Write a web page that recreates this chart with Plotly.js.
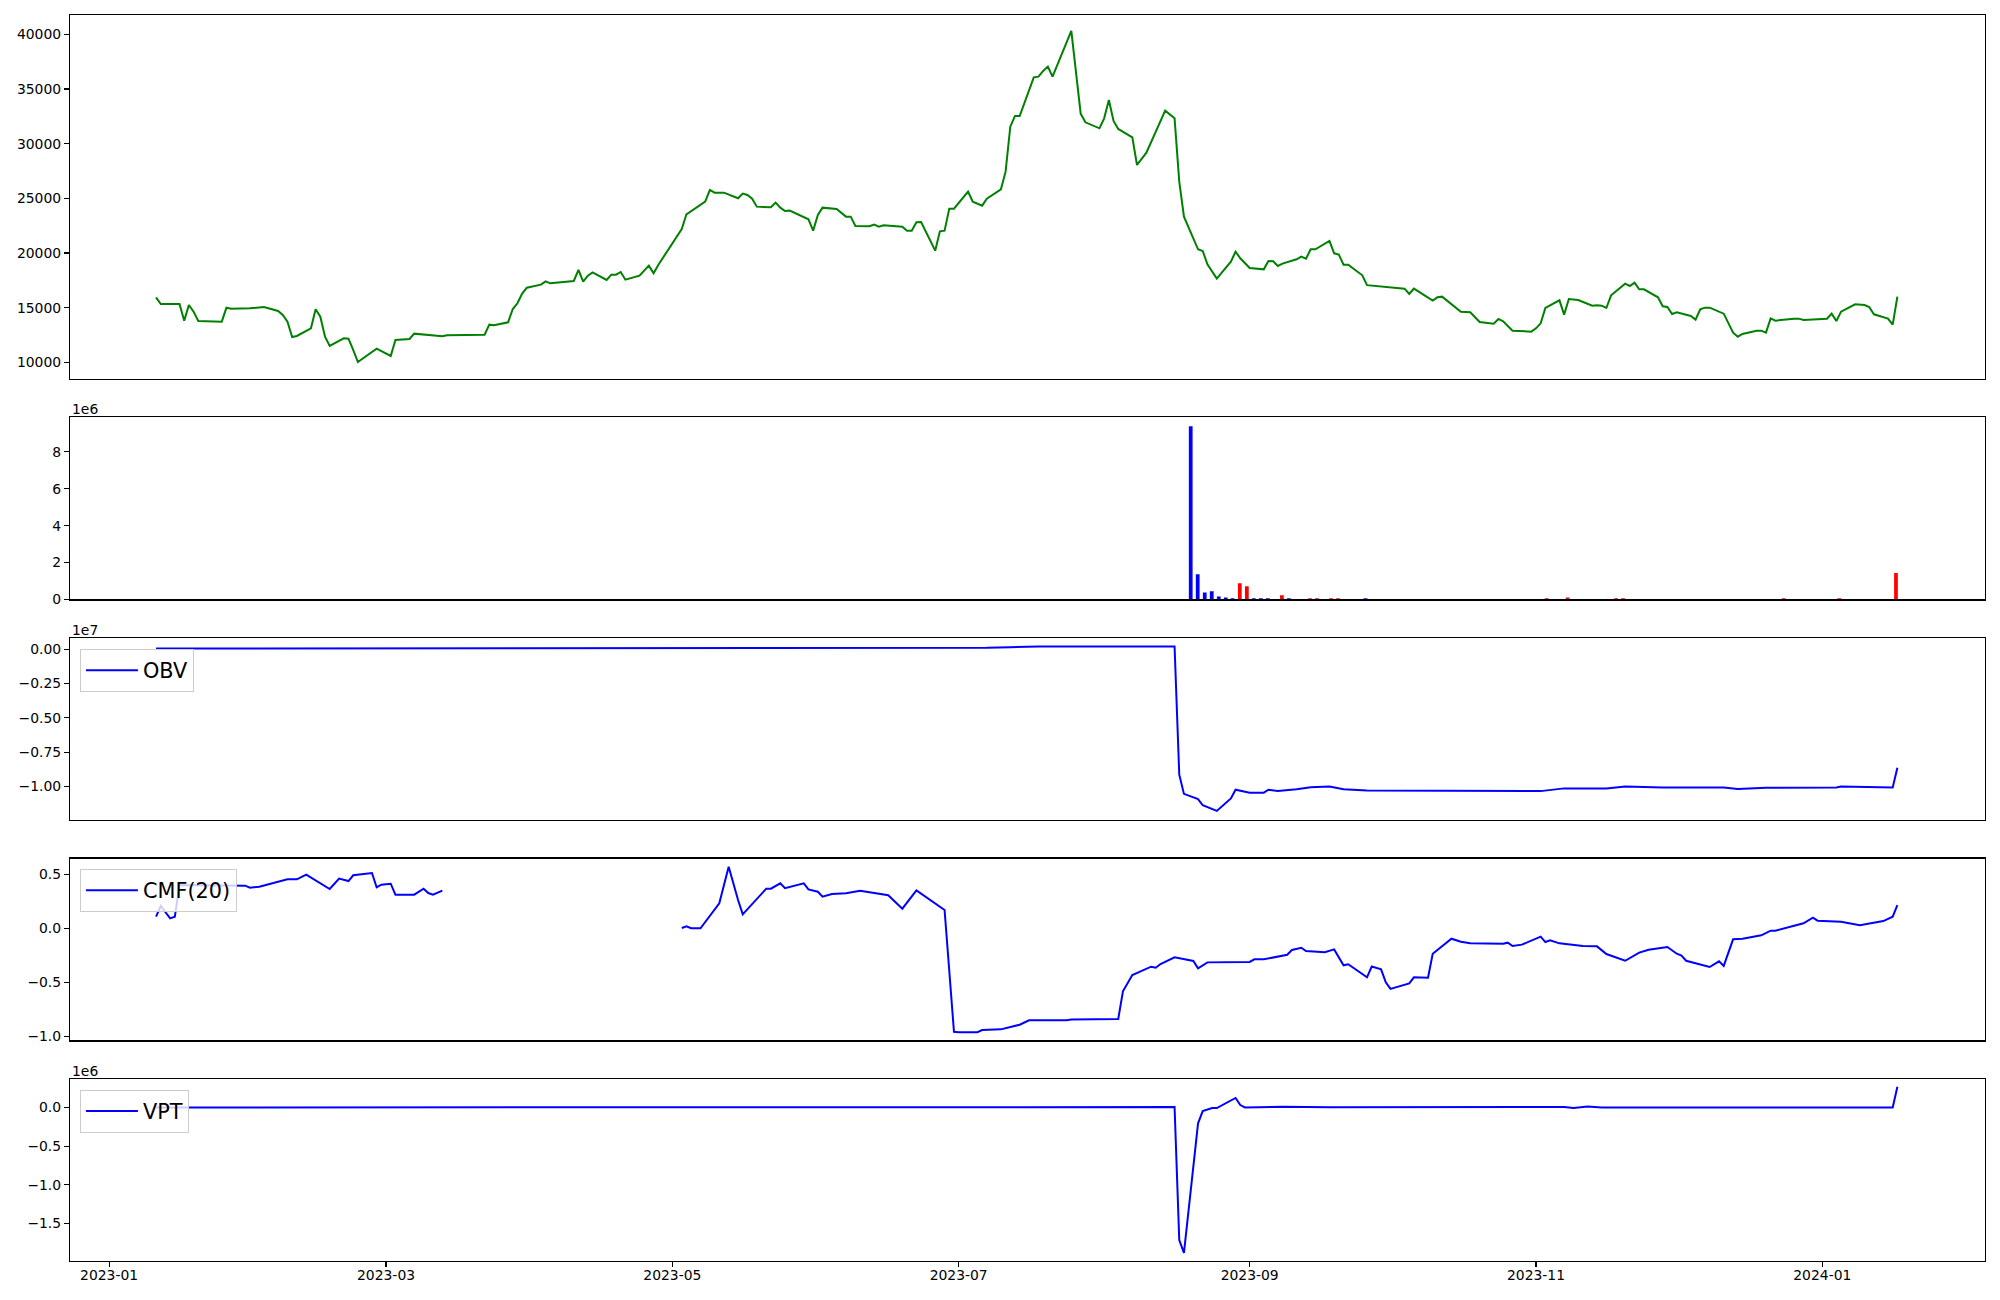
<!DOCTYPE html>
<html>
<head>
<meta charset="utf-8">
<script src="https://cdn.plot.ly/plotly-3.0.1.min.js"></script>
<style>html,body{margin:0;padding:0;background:#fff;}#chart{width:2000px;height:1300px;}</style>
</head>
<body>
<div id="chart"></div>
<script>
// ---------------- DATA ----------------
const priceDates = ['2023-01-11','2023-01-12','2023-01-16','2023-01-17','2023-01-18','2023-01-19','2023-01-20','2023-01-25','2023-01-26','2023-01-27','2023-01-31','2023-02-03','2023-02-06','2023-02-07','2023-02-08','2023-02-09','2023-02-10','2023-02-13','2023-02-14','2023-02-15','2023-02-16','2023-02-17','2023-02-20','2023-02-21','2023-02-22','2023-02-23','2023-02-27','2023-03-02','2023-03-03','2023-03-06','2023-03-07','2023-03-10','2023-03-13','2023-03-14','2023-03-22','2023-03-23','2023-03-24','2023-03-27','2023-03-28','2023-03-29','2023-03-30','2023-03-31','2023-04-03','2023-04-04','2023-04-05','2023-04-10','2023-04-11','2023-04-12','2023-04-13','2023-04-14','2023-04-17','2023-04-18','2023-04-19','2023-04-20','2023-04-21','2023-04-24','2023-04-26','2023-04-27','2023-04-28','2023-05-03','2023-05-04','2023-05-08','2023-05-09','2023-05-10','2023-05-12','2023-05-15','2023-05-16','2023-05-17','2023-05-18','2023-05-19','2023-05-22','2023-05-23','2023-05-24','2023-05-25','2023-05-26','2023-05-30','2023-05-31','2023-06-01','2023-06-02','2023-06-05','2023-06-06','2023-06-07','2023-06-08','2023-06-09','2023-06-12','2023-06-13','2023-06-14','2023-06-15','2023-06-19','2023-06-20','2023-06-21','2023-06-22','2023-06-23','2023-06-26','2023-06-27','2023-06-28','2023-06-29','2023-06-30','2023-07-03','2023-07-04','2023-07-06','2023-07-07','2023-07-10','2023-07-11','2023-07-12','2023-07-13','2023-07-14','2023-07-17','2023-07-18','2023-07-19','2023-07-20','2023-07-21','2023-07-25','2023-07-26','2023-07-27','2023-07-28','2023-07-31','2023-08-01','2023-08-02','2023-08-03','2023-08-04','2023-08-07','2023-08-08','2023-08-10','2023-08-14','2023-08-16','2023-08-17','2023-08-18','2023-08-21','2023-08-22','2023-08-23','2023-08-25','2023-08-28','2023-08-29','2023-08-30','2023-09-01','2023-09-04','2023-09-05','2023-09-06','2023-09-07','2023-09-08','2023-09-11','2023-09-12','2023-09-13','2023-09-14','2023-09-15','2023-09-18','2023-09-19','2023-09-20','2023-09-21','2023-09-22','2023-09-25','2023-09-26','2023-10-04','2023-10-05','2023-10-06','2023-10-10','2023-10-11','2023-10-12','2023-10-16','2023-10-18','2023-10-20','2023-10-23','2023-10-24','2023-10-25','2023-10-27','2023-10-31','2023-11-01','2023-11-02','2023-11-03','2023-11-06','2023-11-07','2023-11-08','2023-11-10','2023-11-13','2023-11-14','2023-11-15','2023-11-16','2023-11-17','2023-11-20','2023-11-21','2023-11-22','2023-11-23','2023-11-24','2023-11-27','2023-11-28','2023-11-29','2023-11-30','2023-12-01','2023-12-04','2023-12-05','2023-12-06','2023-12-07','2023-12-08','2023-12-11','2023-12-13','2023-12-14','2023-12-15','2023-12-18','2023-12-19','2023-12-20','2023-12-21','2023-12-22','2023-12-26','2023-12-27','2023-12-28','2024-01-02','2024-01-03','2024-01-04','2024-01-05','2024-01-08','2024-01-10','2024-01-11','2024-01-12','2024-01-15','2024-01-16','2024-01-17'];
const priceValues = [15943,15334,15334,13809,15242,14632,13779,13718,14998,14907,14937,15059,14693,14327,13718,12315,12406,13108,14846,14175,12345,11492,12193,12163,11126,10028,11248,10577,12041,12132,12620,12468,12376,12468,12529,13443,13382,13656,14876,15395,16279,16828,17102,17406,17224,17437,18444,17376,17925,18230,17529,18016,18016,18261,17559,17925,18840,18138,18900,22194,23535,24694,25761,25517,25517,25000,25426,25304,24969,24237,24176,24603,24146,23840,23871,23078,22041,23474,24146,24024,23658,23322,23322,22468,22438,22590,22407,22529,22407,22041,22041,22804,22834,20212,21980,22041,24054,24054,25609,24694,24328,24969,25822,27438,31554,32530,32530,36067,36128,36646,37042,36128,40305,36738,32743,31950,31402,32316,33993,32073,31341,30578,28048,29176,33018,32316,26523,23322,20334,20181,18962,17651,19206,20121,19511,18626,18504,19267,19237,18809,19023,19419,19663,19480,20334,20334,21096,19968,19846,18931,18931,17956,17056,16736,16248,16736,15638,15943,16004,14632,14571,13687,13535,13962,13748,12894,12803,13108,13565,14968,15669,14358,15791,15700,15181,15211,15181,14968,16126,17193,16980,17285,16675,16675,15943,15120,15059,14419,14571,14236,13901,14846,14998,14998,14449,12711,12345,12589,12894,12894,12711,14022,13809,13992,13992,13870,13992,14449,13779,14632,15303,15242,15059,14388,13992,13443,16004];

const volDates = ['2023-08-19 10:34','2023-08-20 22:19','2023-08-22 10:19','2023-08-23 22:05','2023-08-25 10:05','2023-08-26 21:50','2023-08-28 08:24','2023-08-29 21:36','2023-08-31 09:36','2023-09-01 21:22','2023-09-03 09:22','2023-09-04 20:24','2023-09-07 20:53','2023-09-09 08:38','2023-09-13 20:24','2023-09-15 08:10','2023-09-18 07:55','2023-09-19 19:41','2023-09-25 16:05','2023-11-03 06:14','2023-11-07 17:46','2023-11-18 01:26','2023-11-19 13:26','2023-12-23 19:12','2024-01-04 14:38','2024-01-16 16:48'];
const volValues = [9390000,1370000,380000,450000,160000,110000,70000,880000,720000,70000,70000,70000,230000,70000,70000,70000,70000,70000,70000,70000,110000,70000,70000,70000,70000,1430000];
const volDirection = [1,1,1,1,1,1,1,-1,-1,1,1,1,-1,1,-1,-1,-1,-1,1,-1,-1,-1,-1,-1,-1,-1];

const obvDates = ['2023-01-11','2023-03-02','2023-04-11','2023-05-31','2023-07-07','2023-07-12','2023-07-18','2023-08-16','2023-08-17','2023-08-18','2023-08-21','2023-08-22','2023-08-25','2023-08-28','2023-08-29','2023-09-01','2023-09-04','2023-09-05','2023-09-07','2023-09-11','2023-09-12','2023-09-14','2023-09-18','2023-09-21','2023-09-26','2023-10-13','2023-10-20','2023-11-02','2023-11-07','2023-11-16','2023-11-20','2023-11-28','2023-12-11','2023-12-14','2023-12-20','2024-01-04','2024-01-05','2024-01-10','2024-01-16','2024-01-17'];
const obvValues = [50000,60000,80000,90000,110000,150000,200000,200000,-9140000,-10540000,-10920000,-11370000,-11780000,-10870000,-10240000,-10450000,-10450000,-10240000,-10330000,-10210000,-10150000,-10060000,-10000000,-10210000,-10300000,-10300000,-10340000,-10340000,-10140000,-10140000,-10000000,-10070000,-10070000,-10190000,-10100000,-10070000,-10000000,-10030000,-10070000,-8640000];

const cmfDates = ['2023-01-11','2023-01-12','2023-01-14','2023-01-15','2023-01-16','2023-01-21','2023-01-26','2023-01-30','2023-01-31','2023-02-02','2023-02-08','2023-02-10','2023-02-12','2023-02-17','2023-02-19','2023-02-21','2023-02-22','2023-02-26','2023-02-27','2023-02-28','2023-03-02','2023-03-03','2023-03-07','2023-03-09','2023-03-10','2023-03-11','2023-03-13','2023-03-14','2023-05-03','2023-05-04','2023-05-05','2023-05-07','2023-05-11','2023-05-13','2023-05-15','2023-05-16','2023-05-21','2023-05-22','2023-05-24','2023-05-25','2023-05-29','2023-05-30','2023-06-01','2023-06-02','2023-06-04','2023-06-07','2023-06-10','2023-06-12','2023-06-16','2023-06-19','2023-06-21','2023-06-22','2023-06-28','2023-06-30','2023-07-01','2023-07-05','2023-07-06','2023-07-10','2023-07-14','2023-07-16','2023-07-24','2023-07-25','2023-08-04','2023-08-05','2023-08-07','2023-08-11','2023-08-12','2023-08-13','2023-08-16','2023-08-20','2023-08-21','2023-08-23','2023-09-01','2023-09-02','2023-09-04','2023-09-09','2023-09-10','2023-09-12','2023-09-13','2023-09-17','2023-09-19','2023-09-21','2023-09-22','2023-09-26','2023-09-27','2023-09-29','2023-09-30','2023-10-01','2023-10-05','2023-10-06','2023-10-09','2023-10-10','2023-10-14','2023-10-16','2023-10-18','2023-10-25','2023-10-26','2023-10-27','2023-10-29','2023-10-31','2023-11-02','2023-11-03','2023-11-04','2023-11-06','2023-11-11','2023-11-14','2023-11-16','2023-11-20','2023-11-23','2023-11-25','2023-11-29','2023-12-01','2023-12-02','2023-12-03','2023-12-08','2023-12-10','2023-12-11','2023-12-13','2023-12-15','2023-12-19','2023-12-21','2023-12-22','2023-12-28','2023-12-30','2023-12-31','2024-01-05','2024-01-09','2024-01-14','2024-01-16','2024-01-17'];
const cmfValues = [0.107,0.206,0.092,0.107,0.40,0.40,0.395,0.394,0.375,0.384,0.453,0.453,0.496,0.363,0.459,0.437,0.49,0.511,0.379,0.403,0.412,0.311,0.311,0.366,0.326,0.311,0.348,null,0.003,0.018,0.0,0.0,0.231,0.569,0.262,0.129,0.366,0.366,0.416,0.37,0.416,0.36,0.338,0.292,0.317,0.323,0.348,0.332,0.305,0.181,0.301,0.351,0.169,-0.956,-0.961,-0.961,-0.94,-0.934,-0.891,-0.85,-0.85,-0.844,-0.838,-0.582,-0.432,-0.355,-0.365,-0.33,-0.268,-0.302,-0.37,-0.315,-0.311,-0.287,-0.287,-0.245,-0.2,-0.18,-0.21,-0.222,-0.195,-0.342,-0.332,-0.453,-0.353,-0.38,-0.5,-0.56,-0.51,-0.453,-0.456,-0.235,-0.096,-0.124,-0.139,-0.142,-0.133,-0.164,-0.151,-0.114,-0.077,-0.127,-0.111,-0.139,-0.164,-0.167,-0.238,-0.3,-0.225,-0.198,-0.173,-0.235,-0.253,-0.3,-0.358,-0.305,-0.348,-0.102,-0.096,-0.065,-0.022,-0.022,0.046,0.098,0.07,0.061,0.028,0.067,0.107,0.213];

const vptDates = ['2023-01-11','2023-07-20','2023-08-16','2023-08-17','2023-08-18','2023-08-21','2023-08-22','2023-08-24','2023-08-25','2023-08-29','2023-08-30','2023-08-31','2023-09-08','2023-09-18','2023-11-07','2023-11-09','2023-11-12','2023-11-15','2024-01-16','2024-01-17'];
const vptValues = [0,5000,5000,-1713000,-1880000,-205000,-46000,-7000,-7000,123000,32000,0,10000,3000,8000,-5000,12000,0,0,269000];

// tick labels (matplotlib style with offset text)
const priceTicks = [10000,15000,20000,25000,30000,35000,40000];
const volTickVals = [0,2e6,4e6,6e6,8e6];
const volTickText = ['0','2','4','6','8'];
const obvTickVals = [0,-2.5e6,-5e6,-7.5e6,-1e7];
const obvTickText = ['0.00','\u22120.25','\u22120.50','\u22120.75','\u22121.00'];
const cmfTickVals = [0.5,0,-0.5,-1.0];
const cmfTickText = ['0.5','0.0','\u22120.5','\u22121.0'];
const vptTickVals = [0,-0.5e6,-1e6,-1.5e6];
const vptTickText = ['0.0','\u22120.5','\u22121.0','\u22121.5'];

// ---------------- CHART ----------------
const FONT = 'DejaVu Sans, Liberation Sans, sans-serif';
const DAY_MS = 86400000;
const xr = ['2022-12-23 16:00','2024-02-04 16:00'];

const traces = [
  {x: priceDates, y: priceValues, type:'scatter', mode:'lines', line:{color:'#008000', width:2}, xaxis:'x', yaxis:'y', showlegend:false, name:'Close'},
  {x: volDates, y: volValues, type:'bar', width: volDates.map(()=>0.8*DAY_MS),
   marker:{color: volDirection.map(d => d > 0 ? '#0000ff' : '#ff0000'), line:{width:0}},
   xaxis:'x2', yaxis:'y2', showlegend:false, name:'Volume'},
  {x: obvDates, y: obvValues, type:'scatter', mode:'lines', line:{color:'#0000ff', width:2}, xaxis:'x3', yaxis:'y3', name:'OBV', legend:'legend'},
  {x: cmfDates, y: cmfValues, type:'scatter', mode:'lines', connectgaps:false, line:{color:'#0000ff', width:2}, xaxis:'x4', yaxis:'y4', name:'CMF(20)', legend:'legend2'},
  {x: vptDates, y: vptValues, type:'scatter', mode:'lines', line:{color:'#0000ff', width:2}, xaxis:'x5', yaxis:'y5', name:'VPT', legend:'legend3'}
];

function xax(anchor, showLabels) {
  const a = {type:'date', range:xr, domain:[0,1], anchor:anchor, showgrid:false, zeroline:false,
    showline:true, mirror:true, linecolor:'#000', linewidth:1.1,
    tickfont:{family:FONT, size:13.9, color:'#000'}};
  if (showLabels) {
    Object.assign(a, {ticks:'outside', ticklen:5, tickwidth:1.1, tickcolor:'#000',
      tickformat:'%Y-%m', dtick:'M2', tick0:'2023-01-01', showticklabels:true, ticklabelstandoff:-4});
  } else {
    Object.assign(a, {ticks:'', showticklabels:false});
  }
  return a;
}
function yax(anchor, domain, range, extra) {
  return Object.assign({domain:domain, range:range, anchor:anchor, showgrid:false, zeroline:false,
    showline:true, mirror:true, linecolor:'#000', linewidth:1.1,
    ticks:'outside', ticklen:5, tickwidth:1.1, tickcolor:'#000',
    tickfont:{family:FONT, size:13.9, color:'#000'}}, extra);
}
function leg(y) {
  return {x:0.0052, y:y, xanchor:'left', yanchor:'top', bgcolor:'rgba(255,255,255,0.8)',
    bordercolor:'#cccccc', borderwidth:1, font:{family:FONT, size:20.8, color:'#000'},
    itemwidth:52, tracegroupgap:0};
}

const layout = {
  width:2000, height:1300, paper_bgcolor:'#fff', plot_bgcolor:'#fff',
  margin:{l:70, r:15, t:15, b:39, pad:0},
  font:{family:FONT, size:13.9, color:'#000'},
  showlegend:true,
  xaxis: xax('y', false),
  xaxis2: Object.assign(xax('y2', false), {matches:'x'}),
  xaxis3: Object.assign(xax('y3', false), {matches:'x'}),
  xaxis4: Object.assign(xax('y4', false), {matches:'x'}),
  xaxis5: Object.assign(xax('y5', true), {matches:'x'}),
  yaxis: yax('x', [0.70787,1], [8473,41765], {tickvals:priceTicks, tickformat:'d'}),
  yaxis2: yax('x2', [0.53090,0.67697], [0,9860000], {tickvals:volTickVals, ticktext:volTickText}),
  yaxis3: yax('x3', [0.35393,0.5], [-12445000,820000], {tickvals:obvTickVals, ticktext:obvTickText}),
  yaxis4: yax('x4', [0.17697,0.32303], [-1.037,0.645], {tickvals:cmfTickVals, ticktext:cmfTickText}),
  yaxis5: yax('x5', [0,0.14607], [-1985000,368600], {tickvals:vptTickVals, ticktext:vptTickText}),
  legend: leg(0.4909),
  legend2: leg(0.3144),
  legend3: leg(0.1372),
  annotations: [
    {text:'1e6', xref:'paper', yref:'paper', x:0, y:0.67697, xanchor:'left', yanchor:'bottom', showarrow:false, font:{family:FONT, size:13.9, color:'#000'}, yshift:-2},
    {text:'1e7', xref:'paper', yref:'paper', x:0, y:0.5, xanchor:'left', yanchor:'bottom', showarrow:false, font:{family:FONT, size:13.9, color:'#000'}, yshift:-2},
    {text:'1e6', xref:'paper', yref:'paper', x:0, y:0.14607, xanchor:'left', yanchor:'bottom', showarrow:false, font:{family:FONT, size:13.9, color:'#000'}, yshift:-2}
  ]
};

Plotly.newPlot('chart', traces, layout, {displayModeBar:false, staticPlot:true});
</script>
</body>
</html>
